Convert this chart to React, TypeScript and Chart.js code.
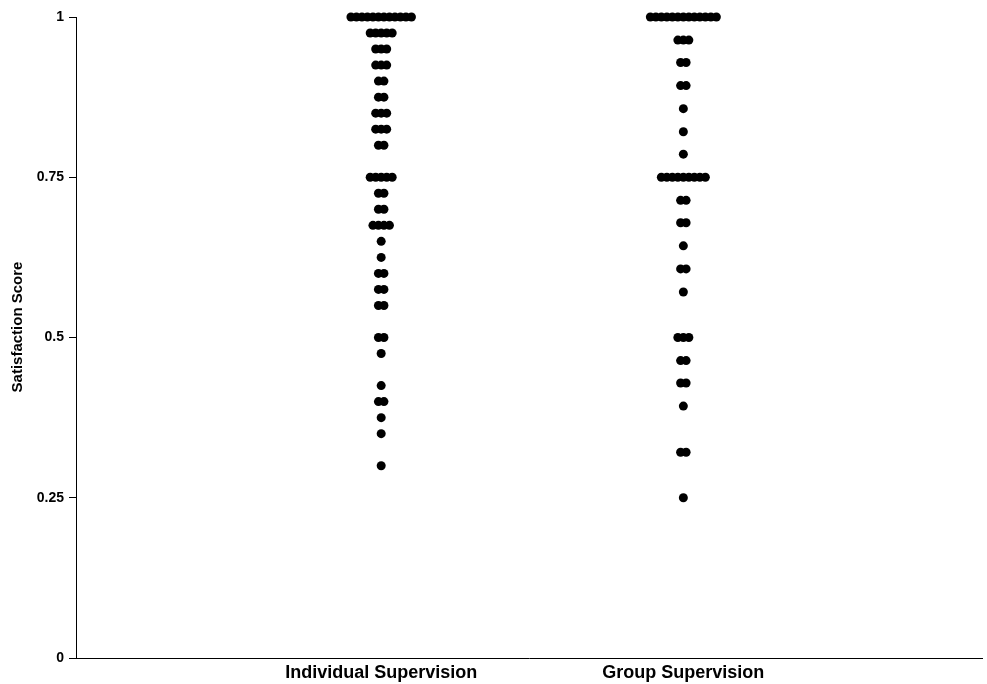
import React, { useEffect, useRef } from "react";
import { Chart, registerables } from "chart.js";

Chart.register(...registerables);

const categories = ["Individual Supervision", "Group Supervision"];
const yAxisTitle = "Satisfaction Score";

// Individual supervision: score level and number of respondents at that level
const individualValues = [1, 0.975, 0.95, 0.925, 0.9, 0.875, 0.85, 0.825, 0.8, 0.75, 0.725, 0.7, 0.675, 0.65, 0.625, 0.6, 0.575, 0.55, 0.5, 0.475, 0.425, 0.4, 0.375, 0.35, 0.3];
const individualCounts = [12, 5, 3, 3, 2, 2, 3, 3, 2, 5, 2, 2, 4, 1, 1, 2, 2, 2, 2, 1, 1, 2, 1, 1, 1];

// Group supervision
const groupValues = [1, 0.964, 0.929, 0.893, 0.857, 0.821, 0.786, 0.75, 0.714, 0.679, 0.643, 0.607, 0.571, 0.5, 0.464, 0.429, 0.393, 0.321, 0.25];
const groupCounts = [13, 3, 2, 2, 1, 1, 1, 9, 2, 2, 1, 2, 1, 3, 2, 2, 1, 2, 1];

const DOT_STEP = 0.0182; // horizontal spacing of stacked dots, in x-axis units

function expand(cat: number, values: number[], counts: number[]) {
  const pts: { x: number; y: number }[] = [];
  values.forEach((v, i) => {
    const n = counts[i];
    for (let k = 0; k < n; k++) {
      pts.push({ x: cat + (k - (n - 1) / 2) * DOT_STEP, y: v });
    }
  });
  return pts;
}

const FONT = "'Liberation Sans', Arial, sans-serif";

const titlePlugin = {
  id: "yTitle",
  afterDraw(chart: any) {
    const ctx = chart.ctx;
    ctx.save();
    ctx.translate(18, 327);
    ctx.rotate(-Math.PI / 2);
    ctx.font = `bold 15px ${FONT}`;
    ctx.fillStyle = "#000";
    ctx.textAlign = "center";
    ctx.textBaseline = "middle";
    ctx.fillText(yAxisTitle, 0, 0);
    ctx.restore();
  },
};

export default function App() {
  const ref = useRef<HTMLCanvasElement | null>(null);

  useEffect(() => {
    if (!ref.current) return;
    const chart = new Chart(ref.current, {
      type: "scatter",
      data: {
        datasets: [
          {
            label: categories[0],
            data: expand(1, individualValues, individualCounts),
            backgroundColor: "#000",
            borderWidth: 0,
            pointRadius: 4.5,
            clip: false as any,
          },
          {
            label: categories[1],
            data: expand(2, groupValues, groupCounts),
            backgroundColor: "#000",
            borderWidth: 0,
            pointRadius: 4.5,
            clip: false as any,
          },
        ],
      },
      plugins: [titlePlugin],
      options: {
        animation: false,
        responsive: true,
        maintainAspectRatio: false,
        layout: { padding: { top: 17, right: 2, left: 0, bottom: 0 } },
        plugins: {
          legend: { display: false },
          tooltip: { enabled: false },
        },
        scales: {
          x: {
            type: "linear",
            min: -0.01,
            max: 2.99,
            afterBuildTicks: (s: any) => {
              s.ticks = [{ value: 1 }, { value: 2 }];
            },
            afterFit: (s: any) => {
              s.height = 26;
            },
            ticks: {
              autoSkip: false,
              maxRotation: 0,
              padding: 4,
              color: "#000",
              font: { family: FONT, size: 18, weight: "bold" },
              callback: (v: any) => categories[Math.round(Number(v)) - 1] ?? "",
            },
            grid: { display: false, drawTicks: false },
            border: { display: true, color: "#000", width: 1 },
          },
          y: {
            type: "linear",
            min: 0,
            max: 1,
            afterFit: (s: any) => {
              s.width = 76;
            },
            ticks: {
              stepSize: 0.25,
              padding: 5,
              color: "#000",
              font: { family: FONT, size: 14, weight: "bold" },
              callback: (v: any) => String(Number(v)),
            },
            grid: {
              display: true,
              drawOnChartArea: false,
              drawTicks: true,
              tickLength: 7,
              color: "#000",
            },
            border: { display: true, color: "#000", width: 1 },
          },
        },
      },
    });
    return () => chart.destroy();
  }, []);

  return (
    <div style={{ position: "absolute", left: 0, top: 0, width: 987, height: 684, background: "#fff" }}>
      <canvas ref={ref} />
    </div>
  );
}
